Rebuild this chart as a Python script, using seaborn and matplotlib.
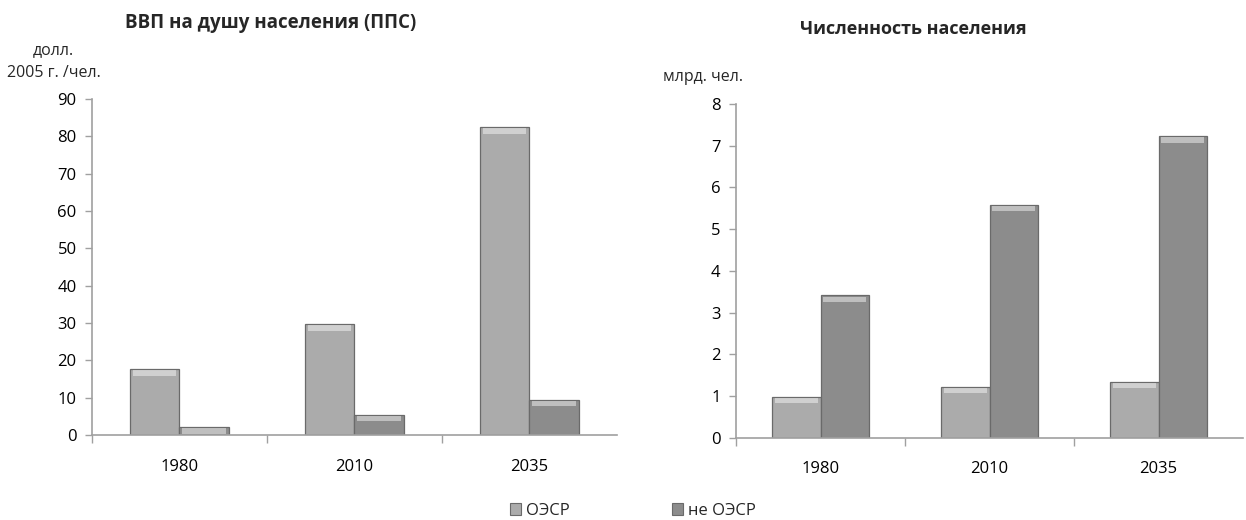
import matplotlib
matplotlib.use("Agg")
import matplotlib.pyplot as plt
from matplotlib.patches import Patch
from matplotlib.ticker import FixedLocator
import seaborn as sns
import pandas as pd

# Data
years = ["1980", "2010", "2035"]
groups = ["ОЭСР", "не ОЭСР"]
gdp_oecd = [17.6, 29.7, 82.5]
gdp_non_oecd = [2.1, 5.4, 9.4]
pop_oecd = [0.98, 1.22, 1.34]
pop_non_oecd = [3.41, 5.58, 7.23]

gdp_title = "ВВП на душу населения (ППС)"
pop_title = "Численность населения"
gdp_unit = "долл.\n2005 г. /чел."
pop_unit = "млрд. чел."

colors = {"ОЭСР": "#ababab", "не ОЭСР": "#8c8c8c"}

sns.set_theme(style="white")
plt.rcParams["font.family"] = ["Open Sans", "DejaVu Sans"]


def long_frame(a, b):
    return pd.DataFrame({
        "year": years * 2,
        "group": [groups[0]] * len(years) + [groups[1]] * len(years),
        "value": list(a) + list(b),
    })


fig = plt.figure(figsize=(12.46, 5.2), dpi=100)
ax1 = fig.add_axes([0.0738, 0.1635, 0.4213, 0.646])
ax2 = fig.add_axes([0.5907, 0.1583, 0.4069, 0.6417])


def draw(ax, df, ymax, step):
    sns.barplot(data=df, x="year", y="value", hue="group", order=years,
                hue_order=groups, palette=colors, width=0.57, gap=0,
                edgecolor="#6a6a6a", linewidth=0.9, saturation=1,
                legend=False, ax=ax)
    # soft highlight along the top of each bar
    for p in ax.patches:
        x, w, h = p.get_x(), p.get_width(), p.get_height()
        band = ymax * 0.012
        ax.fill_between([x + w * 0.06, x + w * 0.94], h - band * 1.6, h - band * 0.3,
                        color="white", alpha=0.45, linewidth=0, zorder=p.get_zorder() + 1)
    ax.set_xlim(-0.5, 2.5)
    ax.set_ylim(0, ymax)
    ax.set_yticks([i * step for i in range(int(round(ymax / step)) + 1)])
    ax.set_xlabel("")
    ax.set_ylabel("")
    for s in ["top", "right"]:
        ax.spines[s].set_visible(False)
    for s in ["left", "bottom"]:
        ax.spines[s].set_color("#a0a0a0")
        ax.spines[s].set_linewidth(1.2)
    ax.tick_params(axis="y", which="major", left=True, length=5, width=1,
                   color="#a0a0a0", labelsize=12, labelcolor="black", pad=6)
    ax.tick_params(axis="x", which="major", length=0, labelsize=12,
                   labelcolor="black", pad=17)
    ax.xaxis.set_minor_locator(FixedLocator([-0.5, 0.5, 1.5]))
    ax.tick_params(axis="x", which="minor", bottom=True, length=6, width=1,
                   color="#a0a0a0")


draw(ax1, long_frame(gdp_oecd, gdp_non_oecd), 90, 10)
draw(ax2, long_frame(pop_oecd, pop_non_oecd), 8, 1)

fig.text(0.2175, 0.955, gdp_title, ha="center", va="center", fontsize=13.5,
         fontweight="bold")
fig.text(0.733, 0.945, pop_title, ha="center", va="center", fontsize=13,
         fontweight="bold")
fig.text(0.043, 0.882, gdp_unit, ha="center", va="center", fontsize=11.5,
         linespacing=1.55)
fig.text(0.564, 0.851, pop_unit, ha="center", va="center", fontsize=11.5)

handles = [Patch(facecolor=colors[g], edgecolor="#6a6a6a", linewidth=0.8, label=g)
           for g in groups]
fig.legend(handles=handles, loc="center", bbox_to_anchor=(0.508, 0.017), ncol=2,
           frameon=False, fontsize=12, handlelength=0.7, handleheight=0.7,
           handletextpad=0.3, columnspacing=6.1)

fig.savefig("out.png", dpi=100)
